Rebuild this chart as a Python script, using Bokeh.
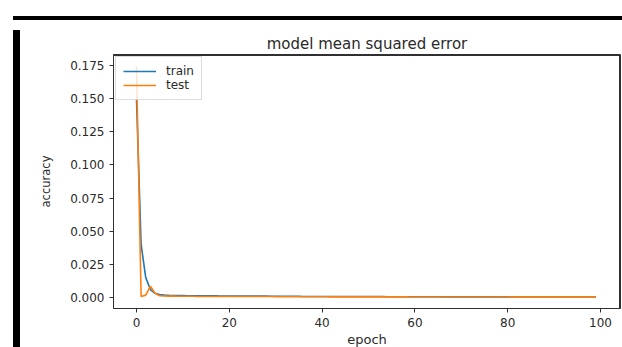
from bokeh.plotting import figure
from bokeh.layouts import column, row
from bokeh.models import Range1d, FixedTicker, NumeralTickFormatter, Legend, LegendItem, Div
from bokeh.embed import file_html
from bokeh.resources import INLINE

epochs = list(range(100))

train = [
    0.150, 0.040, 0.015, 0.006, 0.0032, 0.0022, 0.0018, 0.0016, 0.0015, 0.0014,
    0.0014, 0.0013, 0.0013, 0.0013, 0.0012, 0.0012, 0.0012, 0.0012, 0.0011, 0.0011,
    0.0011, 0.0011, 0.0011, 0.0010, 0.0010, 0.0010, 0.0010, 0.0010, 0.0010, 0.0009,
    0.0009, 0.0009, 0.0009, 0.0009, 0.0009, 0.0009, 0.0008, 0.0008, 0.0008, 0.0008,
    0.0008, 0.0008, 0.0008, 0.0008, 0.0007, 0.0007, 0.0007, 0.0007, 0.0007, 0.0007,
    0.0007, 0.0007, 0.0007, 0.0007, 0.0006, 0.0006, 0.0006, 0.0006, 0.0006, 0.0006,
    0.0006, 0.0006, 0.0006, 0.0006, 0.0006, 0.0006, 0.0005, 0.0005, 0.0005, 0.0005,
    0.0005, 0.0005, 0.0005, 0.0005, 0.0005, 0.0005, 0.0005, 0.0005, 0.0005, 0.0005,
    0.0005, 0.0004, 0.0004, 0.0004, 0.0004, 0.0004, 0.0004, 0.0004, 0.0004, 0.0004,
    0.0004, 0.0004, 0.0004, 0.0004, 0.0004, 0.0004, 0.0004, 0.0004, 0.0004, 0.0004,
]

test = [
    0.174, 0.0008, 0.0018, 0.0085, 0.0032, 0.0013, 0.0011, 0.0010, 0.0010, 0.0009,
    0.0009, 0.0009, 0.0009, 0.0008, 0.0008, 0.0008, 0.0008, 0.0008, 0.0008, 0.0008,
    0.0007, 0.0007, 0.0007, 0.0007, 0.0007, 0.0007, 0.0007, 0.0007, 0.0007, 0.0007,
    0.0006, 0.0006, 0.0006, 0.0006, 0.0006, 0.0006, 0.0006, 0.0006, 0.0006, 0.0006,
    0.0006, 0.0006, 0.0005, 0.0005, 0.0005, 0.0005, 0.0005, 0.0005, 0.0005, 0.0005,
    0.0005, 0.0005, 0.0005, 0.0005, 0.0005, 0.0005, 0.0005, 0.0005, 0.0005, 0.0004,
    0.0004, 0.0004, 0.0004, 0.0004, 0.0004, 0.0004, 0.0004, 0.0004, 0.0004, 0.0004,
    0.0004, 0.0004, 0.0004, 0.0004, 0.0004, 0.0004, 0.0004, 0.0004, 0.0004, 0.0004,
    0.0004, 0.0003, 0.0003, 0.0003, 0.0003, 0.0003, 0.0003, 0.0003, 0.0003, 0.0003,
    0.0003, 0.0003, 0.0003, 0.0003, 0.0003, 0.0003, 0.0003, 0.0003, 0.0003, 0.0003,
]

x_ticks = [0, 20, 40, 60, 80, 100]
y_ticks = [0.0, 0.025, 0.05, 0.075, 0.1, 0.125, 0.15, 0.175]

FONT = "DejaVu Sans"
TXT = "#2a2a2a"
FRAME = "#303030"
X0, X1 = -4.95, 104.3
Y0, Y1 = -0.0083, 0.1833

p = figure(
    width=607, height=325,
    output_backend="svg", toolbar_location=None,
    x_range=Range1d(X0, X1), y_range=Range1d(Y0, Y1),
    min_border_left=88, min_border_right=12, min_border_top=29, min_border_bottom=42,
    title="model mean squared error",
)
p.border_fill_color = "white"
p.background_fill_color = "white"
p.outline_line_color = FRAME

p.title.align = "center"
p.title.text_font = FONT
p.title.text_font_size = "15px"
p.title.text_font_style = "normal"
p.title.text_color = TXT
p.title.standoff = 4

# top and right spines of the axes box, drawn as single grid lines just inside the range ends
p.xgrid.ticker = FixedTicker(ticks=[X1 - 0.3])
p.ygrid.ticker = FixedTicker(ticks=[Y1 - 0.001])
p.xgrid.grid_line_color = FRAME
p.ygrid.grid_line_color = FRAME
p.xgrid.grid_line_width = 1
p.ygrid.grid_line_width = 1

xa = p.below[0]
ya = p.left[0]
for ax in (xa, ya):
    ax.axis_line_color = FRAME
    ax.major_tick_in = 0
    ax.major_tick_out = 4
    ax.major_tick_line_color = FRAME
    ax.minor_tick_line_color = None
    ax.major_label_text_font = FONT
    ax.major_label_text_font_size = "12px"
    ax.major_label_text_color = TXT
    ax.axis_label_text_font = FONT
    ax.axis_label_text_font_style = "normal"
    ax.axis_label_text_color = TXT

xa.ticker = FixedTicker(ticks=x_ticks)
ya.ticker = FixedTicker(ticks=y_ticks)
ya.formatter = NumeralTickFormatter(format="0.000")
xa.axis_label = "epoch"
ya.axis_label = "accuracy"
xa.axis_label_text_font_size = "13px"
ya.axis_label_text_font_size = "11.5px"
xa.major_label_standoff = 5
ya.major_label_standoff = 5
xa.axis_label_standoff = 2
ya.axis_label_standoff = 14

r_train = p.line(epochs, train, line_color="#1f77b4", line_width=1.6)
r_test = p.line(epochs, test, line_color="#ff7f0e", line_width=1.6)

legend = Legend(
    items=[LegendItem(label="train", renderers=[r_train]),
           LegendItem(label="test", renderers=[r_test])],
    location="top_left",
    margin=2, padding=7, spacing=0,
    glyph_width=33, glyph_height=14, label_standoff=10,
    label_text_font=FONT, label_text_font_size="12px", label_text_color=TXT,
    border_line_color="#bbbbbb", border_line_width=1, background_fill_alpha=0.8,
)
p.add_layout(legend)

# the picture's black border, as plain HTML blocks around the chart
top_bar = Div(width=622, height=15, text=(
    '<div style="padding:11px 0 0 8px;margin:0;line-height:0;">'
    '<div style="width:614px;height:4px;background:#000;"></div></div>'))
left_bar = Div(width=15, height=325, text=(
    '<div style="padding:0 0 0 8px;margin:0;line-height:0;">'
    '<div style="width:7px;height:325px;background:#000;"></div></div>'))
bottom_bar = Div(width=622, height=7, text=(
    '<div style="padding:0 0 0 8px;margin:0;line-height:0;">'
    '<div style="width:614px;height:7px;background:#000;"></div></div>'))

page = column(top_bar, row(left_bar, p, spacing=0), bottom_bar, spacing=0)

open("out.html", "w").write(file_html(page, INLINE))
